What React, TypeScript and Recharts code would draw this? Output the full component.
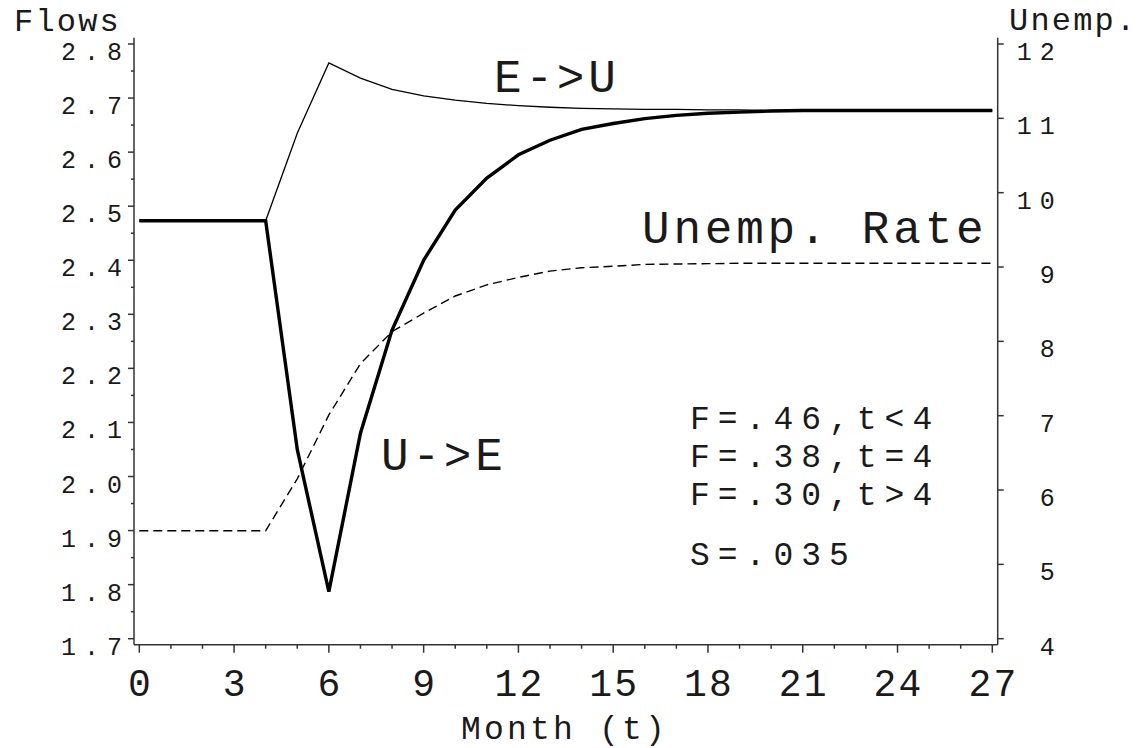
import { LineChart, Line, XAxis, YAxis } from 'recharts'

// months on the x axis
const months = [0, 1, 2, 3, 4, 5, 6, 7, 8, 9, 10, 11, 12, 13, 14, 15, 16, 17, 18, 19, 20, 21, 22, 23, 24, 25, 26, 27]

// flows (left axis)
const uToE = [
  2.473, 2.473, 2.473, 2.473, 2.473, 2.05, 1.787, 2.08, 2.271, 2.4, 2.493, 2.552, 2.595, 2.622,
  2.642, 2.653, 2.662, 2.668, 2.672, 2.674, 2.676, 2.677, 2.677, 2.677, 2.677, 2.677, 2.677, 2.677,
]
const eToU = [
  2.473, 2.473, 2.473, 2.473, 2.473, 2.635, 2.765, 2.737, 2.716, 2.704, 2.696, 2.69, 2.686, 2.683,
  2.681, 2.68, 2.679, 2.679, 2.678, 2.678, 2.677, 2.677, 2.677, 2.677, 2.677, 2.677, 2.677, 2.677,
]

// unemployment rate (right axis)
const unempRate = [
  5.453, 5.453, 5.453, 5.453, 5.453, 6.15, 7.01, 7.7, 8.13, 8.38, 8.61, 8.76, 8.86, 8.945,
  8.99, 9.01, 9.035, 9.04, 9.045, 9.05, 9.05, 9.05, 9.05, 9.05, 9.05, 9.05, 9.05, 9.05,
]

const xTicks = months
const leftTicks = [
  1.7, 1.75, 1.8, 1.85, 1.9, 1.95, 2.0, 2.05, 2.1, 2.15, 2.2, 2.25, 2.3, 2.35, 2.4, 2.45, 2.5,
  2.55, 2.6, 2.65, 2.7, 2.75, 2.8,
]
const rightTicks = [4, 5, 6, 7, 8, 9, 10, 11, 12]

const chartData = months.map((t, i) => ({
  t,
  uToE: uToE[i],
  eToU: eToU[i],
  unemp: unempRate[i],
}))

const FONT = '"Liberation Mono", "DejaVu Sans Mono", monospace'
const AXIS = '#333333'
const INK = '#1a1a1a'

function LeftTick(props: any) {
  const { x, y, payload } = props
  const v = payload.value as number
  const major = Math.round(v * 100) % 10 === 0
  return (
    <g>
      <line x1={x} x2={x - (major ? 6 : 3)} y1={y} y2={y} stroke={AXIS} strokeWidth={1.5} />
      {major && (
        <text x={x - 4} y={y + 16} textAnchor='end' fontFamily={FONT} fontSize={25} letterSpacing={8} fill={INK}>
          {v.toFixed(1)}
        </text>
      )}
    </g>
  )
}

function RightTick(props: any) {
  const { x, y, payload } = props
  return (
    <g>
      <line x1={x} x2={x + 6} y1={y} y2={y} stroke={AXIS} strokeWidth={1.5} />
      <text x={x + 65} y={y + 16} textAnchor='end' fontFamily={FONT} fontSize={25} letterSpacing={8} fill={INK}>
        {payload.value}
      </text>
    </g>
  )
}

function BottomTick(props: any) {
  const { x, y, payload } = props
  const v = payload.value as number
  const major = v % 3 === 0
  return (
    <g>
      <line x1={x} x2={x} y1={y} y2={y + (major ? 8 : 4)} stroke={AXIS} strokeWidth={1.5} />
      {major && (
        <text x={x + 1.1} y={y + 51} textAnchor='middle' fontFamily={FONT} fontSize={38} letterSpacing={2.2} fill={INK}>
          {v}
        </text>
      )}
    </g>
  )
}

export default function App() {
  return (
    <div style={{ position: 'absolute', left: 0, top: 0, width: 1141, height: 748, background: '#fff' }}>
      <LineChart width={1141} height={748} data={chartData} margin={{ top: 37.7, right: 0, bottom: 0, left: 0 }}>
        <XAxis
          dataKey='t'
          type='number'
          domain={[0, 27]}
          ticks={xTicks}
          interval={0}
          padding={{ left: 5.3, right: 5.4 }}
          height={103.3}
          tickSize={0}
          tickMargin={0}
          tickLine={false}
          axisLine={{ stroke: AXIS, strokeWidth: 1.5 }}
          tick={(p: any) => <BottomTick {...p} />}
        />
        <XAxis
          xAxisId='top'
          orientation='top'
          dataKey='t'
          type='number'
          domain={[0, 27]}
          height={0}
          tick={false}
          tickLine={false}
          axisLine={{ stroke: AXIS, strokeWidth: 1.5 }}
        />
        <YAxis
          yAxisId='left'
          type='number'
          domain={[1.7, 2.8]}
          ticks={leftTicks}
          interval={0}
          padding={{ top: 6.3, bottom: 6 }}
          width={134}
          tickSize={0}
          tickMargin={0}
          tickLine={false}
          axisLine={{ stroke: AXIS, strokeWidth: 1.5 }}
          tick={(p: any) => <LeftTick {...p} />}
        />
        <YAxis
          yAxisId='right'
          orientation='right'
          type='number'
          domain={[4, 12]}
          ticks={rightTicks}
          interval={0}
          padding={{ top: 6.3, bottom: 6 }}
          width={143.3}
          tickSize={0}
          tickMargin={0}
          tickLine={false}
          axisLine={{ stroke: AXIS, strokeWidth: 1.5 }}
          tick={(p: any) => <RightTick {...p} />}
        />
        <Line
          yAxisId='right'
          type='linear'
          dataKey='unemp'
          stroke='#000'
          strokeWidth={1.4}
          strokeDasharray='9 5'
          dot={false}
          isAnimationActive={false}
        />
        <Line
          yAxisId='left'
          type='linear'
          dataKey='eToU'
          stroke='#000'
          strokeWidth={1.3}
          dot={false}
          isAnimationActive={false}
        />
        <Line
          yAxisId='left'
          type='linear'
          dataKey='uToE'
          stroke='#000'
          strokeWidth={3.4}
          dot={false}
          isAnimationActive={false}
        />
      </LineChart>
      <svg
        width={1141}
        height={748}
        style={{ position: 'absolute', left: 0, top: 0, pointerEvents: 'none' }}
        fontFamily={FONT}
        fill={INK}
      >
        <text x={14} y={31} fontSize={32} letterSpacing={2.2}>Flows</text>
        <text x={1009} y={30} fontSize={32} letterSpacing={2.2}>Unemp.</text>
        <text x={564.6} y={739} fontSize={33} letterSpacing={3.2} textAnchor='middle'>Month (t)</text>
        <text x={494} y={92} fontSize={46} letterSpacing={3.8}>E-&gt;U</text>
        <text x={642} y={243} fontSize={46} letterSpacing={3.8}>Unemp. Rate</text>
        <text x={381} y={470} fontSize={46} letterSpacing={3.8}>U-&gt;E</text>
        <text x={690} y={429} fontSize={33} letterSpacing={8}>F=.46,t&lt;4</text>
        <text x={690} y={467} fontSize={33} letterSpacing={8}>F=.38,t=4</text>
        <text x={690} y={505} fontSize={33} letterSpacing={8}>F=.30,t&gt;4</text>
        <text x={690} y={565} fontSize={33} letterSpacing={8}>S=.035</text>
      </svg>
    </div>
  )
}
